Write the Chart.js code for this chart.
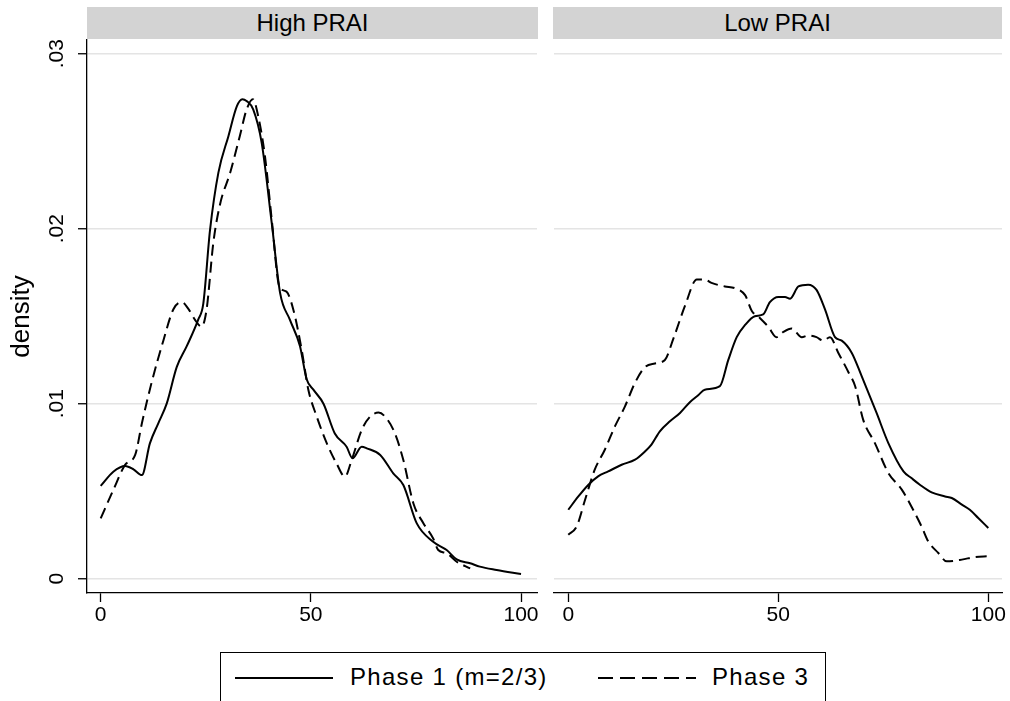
<!DOCTYPE html>
<html>
<head>
<meta charset="utf-8">
<script src="https://cdn.jsdelivr.net/npm/chart.js@4/dist/chart.umd.min.js"></script>
<style>
  html, body { margin: 0; padding: 0; background: #fff; }
  body { width: 1010px; height: 701px; overflow: hidden; position: relative; font-family: "Liberation Sans", Arial, sans-serif; color: #000; }
  canvas { position: absolute; top: 0; }
  #cHigh { left: 0; }
  #cLow { left: 545px; }
  .strip { position: absolute; top: 7px; height: 32px; background: #d3d3d3; text-align: center; font-size: 24px; line-height: 32px; }
  #legend { position: absolute; left: 220px; top: 652px; width: 606px; height: 60px; border: 1px solid #000; box-sizing: border-box; }
  #legend .sample { position: absolute; top: 24px; height: 2px; width: 98px; }
  #legend .txt { position: absolute; top: 9px; font-size: 24px; line-height: 30px; letter-spacing: 1.3px; white-space: nowrap; }
</style>
</head>
<body>
<div class="strip" id="sHigh" style="left:87px;width:451px;"></div>
<div class="strip" id="sLow" style="left:553px;width:449px;"></div>
<canvas id="cHigh" width="545" height="640"></canvas>
<canvas id="cLow" width="465" height="640"></canvas>
<div id="legend">
  <div class="sample" style="left:14px;background:#000;"></div>
  <div class="txt" id="lt1" style="left:129px;"></div>
  <div class="sample" style="left:377px;background:repeating-linear-gradient(to right,#000 0 15px,transparent 15px 22px);"></div>
  <div class="txt" id="lt3" style="left:491px;"></div>
</div>
<script>
// ---------- data ----------
const panelNames = ["High PRAI", "Low PRAI"];
const seriesNames = ["Phase 1 (m=2/3)", "Phase 3"];
const xTicks = [0, 50, 100];
const xTickLabels = ["0", "50", "100"];
const yTicks = [0, 0.01, 0.02, 0.03];
const yTickLabels = ["0", ".01", ".02", ".03"];
const yTitle = "density";

// High PRAI, Phase 1
const highP1X = [0, 3, 5.8, 7.8, 9.8, 11.7, 13.7, 15.7, 18.1, 20.5, 23.2, 24.4, 26.0, 28.0, 30.4, 32.4, 33.7, 34.7, 36.3, 38.3, 40.7, 42.7, 45.0, 47.4, 49.0, 50.6, 53.0, 55.7, 58.5, 59.9, 62.1, 63.3, 66.5, 69.6, 72.0, 75.2, 79.1, 82.3, 84.7, 87.9, 90.2, 94.2, 100];
const highP1Y = [0.0053, 0.00611, 0.00644, 0.00625, 0.00592, 0.00773, 0.00888, 0.0100, 0.0121, 0.0133, 0.0148, 0.0157, 0.0199, 0.0232, 0.0253, 0.0270, 0.0274, 0.0273, 0.0268, 0.0249, 0.0203, 0.0163, 0.0148, 0.0133, 0.0114, 0.0108, 0.0100, 0.0083, 0.00754, 0.00688, 0.00754, 0.00745, 0.00707, 0.00602, 0.00535, 0.00316, 0.00211, 0.00164, 0.0011, 0.00088, 0.00069, 0.0005, 0.00027];
// High PRAI, Phase 3
const highP3X = [0, 3, 5.8, 8.2, 9.8, 12.1, 14.9, 17.3, 19.3, 20.9, 22.4, 24.0, 25.2, 26.8, 28.4, 30.8, 33.1, 34.7, 36.2, 37.5, 39.1, 40.7, 42.5, 44.2, 45.8, 47.8, 49.4, 51.4, 53.8, 56.1, 58.1, 59.7, 62.1, 64.1, 66.1, 68.0, 70.0, 72.0, 74.4, 76.8, 79.1, 80.3, 82.3, 84.7, 87.9];
const highP3Y = [0.00345, 0.00507, 0.0065, 0.00707, 0.00888, 0.0112, 0.0136, 0.0154, 0.0158, 0.0154, 0.0148, 0.0144, 0.0154, 0.0192, 0.0214, 0.0232, 0.0253, 0.0268, 0.0274, 0.0264, 0.0241, 0.0205, 0.0167, 0.0164, 0.0154, 0.0131, 0.0108, 0.00926, 0.00773, 0.00659, 0.00583, 0.00678, 0.0085, 0.00926, 0.00949, 0.00916, 0.0083, 0.00678, 0.0043, 0.00316, 0.0023, 0.00164, 0.00145, 0.00097, 0.00059];
// Low PRAI, Phase 1
const lowP1X = [0, 2.4, 4.8, 7.1, 9.5, 12.7, 15.9, 18.3, 19.8, 21.8, 24.2, 26.6, 29.0, 31.0, 32.5, 36.1, 38.1, 40.1, 42.1, 44.4, 46.4, 48.0, 50.0, 51.6, 52.8, 54.8, 57.1, 59.1, 61.1, 63.5, 65.1, 67.5, 69.8, 73.4, 76.2, 79.8, 81.7, 83.7, 86.5, 89.7, 91.3, 93.7, 95.6, 97.6, 100];
const lowP1Y = [0.00394, 0.0047, 0.00537, 0.00585, 0.00613, 0.00651, 0.0068, 0.00728, 0.00766, 0.00842, 0.00899, 0.00947, 0.0101, 0.0105, 0.0108, 0.0110, 0.0125, 0.0138, 0.0145, 0.0150, 0.0151, 0.0158, 0.0161, 0.0161, 0.0160, 0.0167, 0.0168, 0.0165, 0.0154, 0.0138, 0.0136, 0.0129, 0.0116, 0.00947, 0.00775, 0.00613, 0.00575, 0.00537, 0.00493, 0.0047, 0.00461, 0.00423, 0.00394, 0.00347, 0.0029];
// Low PRAI, Phase 3
const lowP3X = [0, 2.0, 4.0, 6.3, 8.7, 11.1, 13.5, 15.9, 18.3, 20.6, 23.0, 25.0, 27.8, 30.6, 32.5, 34.1, 37.3, 39.7, 42.1, 43.7, 45.6, 47.6, 49.6, 51.2, 53.2, 55.6, 57.1, 59.1, 60.7, 62.3, 64.3, 66.7, 68.3, 70.2, 73.0, 76.2, 79.4, 82.1, 84.1, 85.7, 88.1, 90.1, 93.7, 96.8, 100];
const lowP3Y = [0.00251, 0.00299, 0.00451, 0.00623, 0.00737, 0.0087, 0.00985, 0.0112, 0.0121, 0.0123, 0.0125, 0.0137, 0.0156, 0.0171, 0.0171, 0.0169, 0.0167, 0.0166, 0.0162, 0.0153, 0.0149, 0.0144, 0.0138, 0.0141, 0.0143, 0.0138, 0.0139, 0.0138, 0.0136, 0.0138, 0.0129, 0.0118, 0.0110, 0.00909, 0.00775, 0.00604, 0.00509, 0.00394, 0.00299, 0.00213, 0.00147, 0.00099, 0.00109, 0.00124, 0.00128];

// ---------- text ----------
document.getElementById('sHigh').textContent = panelNames[0];
document.getElementById('sLow').textContent = panelNames[1];
document.getElementById('lt1').textContent = seriesNames[0];
document.getElementById('lt3').textContent = seriesNames[1];

Chart.defaults.font.family = '"Liberation Sans", Arial, sans-serif';
Chart.defaults.color = '#000';

function pts(xs, ys) { return xs.map((x, i) => ({ x: x, y: ys[i] })); }

function makePanel(id, p1x, p1y, p3x, p3y, xmin, xmax, isLeft) {
  const yMin = -0.000817, yMax = 0.03078;
  return new Chart(document.getElementById(id), {
    type: 'line',
    data: {
      datasets: [
        { label: seriesNames[0], data: pts(p1x, p1y), borderColor: '#000', borderWidth: 2, pointRadius: 0, fill: false, cubicInterpolationMode: 'monotone' },
        { label: seriesNames[1], data: pts(p3x, p3y), borderColor: '#000', borderWidth: 2, borderDash: [11, 6], pointRadius: 0, fill: false, cubicInterpolationMode: 'monotone' }
      ]
    },
    options: {
      responsive: false,
      animation: false,
      events: [],
      layout: { padding: { top: 40, right: 8, left: 0, bottom: 0 } },
      plugins: { legend: { display: false }, tooltip: { enabled: false }, title: { display: false } },
      scales: {
        x: {
          type: 'linear', min: xmin, max: xmax,
          afterBuildTicks: (s) => { s.ticks = xTicks.map(v => ({ value: v })); },
          afterFit: (s) => { s.height = 47; },
          ticks: { font: { size: 21 }, color: '#000', padding: 1, maxRotation: 0, autoSkip: false,
                   callback: (v, i) => xTickLabels[i] },
          grid: { drawOnChartArea: false, drawTicks: true, tickLength: 9, tickColor: '#000', tickWidth: 1.3 },
          border: { display: true, color: '#000', width: 1.3 }
        },
        y: {
          type: 'linear', min: yMin, max: yMax,
          afterBuildTicks: (s) => { s.ticks = yTicks.map(v => ({ value: v })); },
          afterFit: (s) => { s.width = isLeft ? 87 : 9; },
          ticks: isLeft
            ? { display: true, font: { size: 21 }, color: '#000', minRotation: 90, maxRotation: 90, crossAlign: 'center', padding: 6,
                callback: (v, i) => yTickLabels[i] }
            : { display: false },
          grid: { color: '#e4e4e4', lineWidth: 1.5, drawTicks: isLeft, tickLength: 9, tickColor: '#000', tickWidth: 1.3 },
          border: { display: isLeft, color: '#000', width: 1.3 },
          title: isLeft
            ? { display: true, text: yTitle, font: { size: 26 }, color: '#000', padding: { top: 6, bottom: 0 } }
            : { display: false }
        }
      }
    }
  });
}

makePanel('cHigh', highP1X, highP1Y, highP3X, highP3Y, -3.26, 103.8, true);
makePanel('cLow', lowP1X, lowP1Y, lowP3X, lowP3Y, -3.40, 103.26, false);
</script>
</body>
</html>
